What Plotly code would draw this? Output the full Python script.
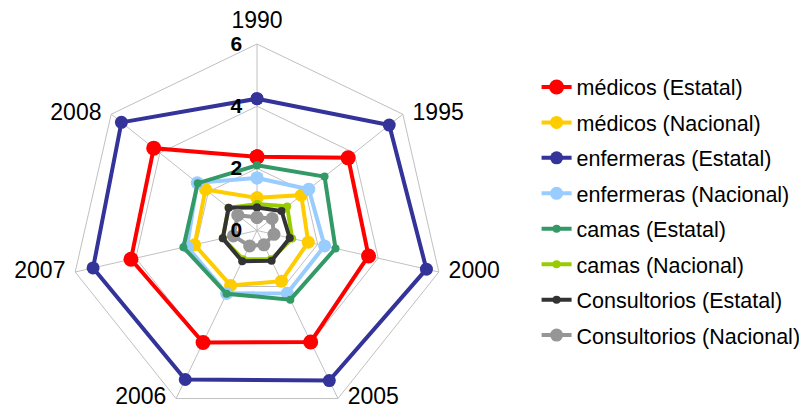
import plotly.graph_objects as go

# categories (angular axis)
years = ["1990", "1995", "2000", "2005", "2006", "2007", "2008"]

# series values
medicos_estatal = [2.37, 3.75, 3.68, 3.98, 4.00, 4.16, 4.25]
medicos_nacional = [1.05, 1.82, 1.69, 1.81, 1.96, 2.06, 2.12]
enfermeras_estatal = [4.24, 5.44, 5.59, 5.36, 5.32, 5.41, 5.58]
enfermeras_nacional = [1.69, 2.13, 2.23, 2.24, 2.25, 2.31, 2.46]
camas_estatal = [2.10, 2.78, 2.59, 2.47, 2.26, 2.43, 2.44]
camas_nacional = [0.85, 1.24, 1.16, 1.03, 1.03, 1.13, 1.17]
consultorios_estatal = [0.74, 1.01, 1.08, 1.08, 1.10, 1.13, 1.17]
consultorios_nacional = [0.42, 0.62, 0.56, 0.51, 0.55, 0.78, 0.79]

radial_ticks = [0, 2, 4, 6]

series = [
    ("médicos (Estatal)", medicos_estatal, "#FF0000", 15, 4),
    ("médicos (Nacional)", medicos_nacional, "#FFCC00", 13, 4),
    ("enfermeras (Estatal)", enfermeras_estatal, "#333399", 13, 4),
    ("enfermeras (Nacional)", enfermeras_nacional, "#99CCFF", 13, 4),
    ("camas (Estatal)", camas_estatal, "#339966", 8, 4),
    ("camas (Nacional)", camas_nacional, "#99CC00", 8, 4),
    ("Consultorios (Estatal)", consultorios_estatal, "#333333", 8, 4),
    ("Consultorios (Nacional)", consultorios_nacional, "#969696", 13, 4),
]

fig = go.Figure()
for i, (name, vals, color, msize, lw) in enumerate(series):
    fig.add_scatterpolar(
        r=vals + vals[:1],
        theta=years + years[:1],
        name=name,
        legendgroup=str(i),
        mode="lines+markers",
        line=dict(color=color, width=lw),
        marker=dict(color=color, size=msize),
    )

# year labels sit just outside the outer ring, like Excel does
# (plotly's own angular tick labels drop too low at the bottom vertices)
label_pos = ["top center", "middle right", "middle right", "middle right",
             "middle left", "middle left", "middle left"]
fig.add_scatterpolar(
    r=[radial_ticks[-1]] * len(years),
    theta=years,
    mode="markers+text",
    text=years,
    textposition=label_pos,
    textfont=dict(size=23, color="black"),
    marker=dict(size=14, color="rgba(0,0,0,0)"),
    cliponaxis=False,
    showlegend=False,
    hoverinfo="skip",
)

fig.update_layout(
    width=807,
    height=417,
    margin=dict(l=0, r=0, t=0, b=0),
    paper_bgcolor="white",
    plot_bgcolor="white",
    font=dict(family="Liberation Sans, Arial, sans-serif", color="black"),
    polar=dict(
        # page has an 8px body margin, so the domain is shifted up/left by 8px
        domain=dict(x=[0.07745, 0.5397], y=[0.01918, 0.91367]),
        bgcolor="white",
        gridshape="linear",
        angularaxis=dict(
            type="category",
            categoryarray=years,
            rotation=90,
            direction="clockwise",
            showline=True,
            linecolor="#C0C0C0",
            linewidth=1,
            gridcolor="#C0C0C0",
            gridwidth=1,
            ticks="",
            showticklabels=False,
        ),
        radialaxis=dict(
            range=[0, 6],
            tickvals=radial_ticks,
            angle=90,
            side="counterclockwise",
            tickangle=90,
            showline=False,
            ticks="outside",
            ticklen=7,
            tickcolor="rgba(0,0,0,0)",
            gridcolor="#C0C0C0",
            gridwidth=1,
            tickfont=dict(size=21, weight="bold"),
        ),
    ),
    legend=dict(
        x=0.655,
        y=0.512,
        xanchor="left",
        yanchor="middle",
        font=dict(size=21.5),
        tracegroupgap=4.5,
        bgcolor="rgba(0,0,0,0)",
    ),
)

fig.write_html("out.html")
